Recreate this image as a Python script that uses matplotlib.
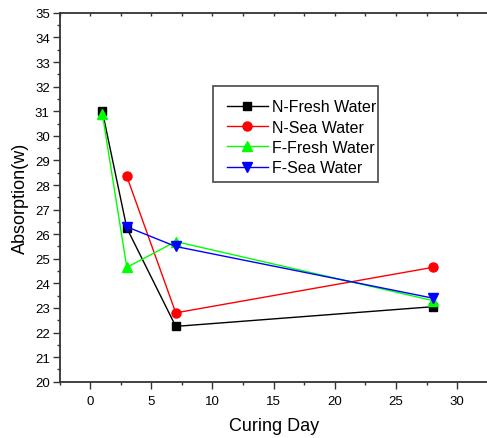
import matplotlib
matplotlib.use("Agg")
import matplotlib.pyplot as plt
from matplotlib.ticker import MultipleLocator
from matplotlib.patches import Rectangle

plt.rcParams['font.family'] = ['Liberation Sans', 'DejaVu Sans']

# Curing days and water absorption values
days_n_fresh = [1, 3, 7, 28]
n_fresh = [31.0, 26.25, 22.25, 23.05]

days_n_sea = [3, 7, 28]
n_sea = [28.35, 22.8, 24.65]

days_f_fresh = [1, 3, 7, 28]
f_fresh = [30.9, 24.65, 25.7, 23.3]

days_f_sea = [3, 7, 28]
f_sea = [26.3, 25.5, 23.4]

labels = ["N-Fresh Water", "N-Sea Water", "F-Fresh Water", "F-Sea Water"]

W, H = 487, 439
fig = plt.figure(figsize=(W / 100, H / 100), dpi=100)
ax = fig.add_axes([59.5 / W, 1 - 382.7 / H, 428.3 / W, (382.7 - 13.9) / H])

ax.plot(days_n_fresh, n_fresh, color='black', lw=1.0, marker='s', ms=5.8, label=labels[0])
ax.plot(days_n_sea, n_sea, color='#ff0000', lw=1.0, marker='o', ms=6.5, label=labels[1])
ax.plot(days_f_fresh, f_fresh, color='#00ff00', lw=1.0, marker='^', ms=7.5, label=labels[2])
ax.plot(days_f_sea, f_sea, color='#0000ff', lw=1.0, marker='v', ms=7.5, label=labels[3])

ax.set_xlim(-2.5, 32.5)
ax.set_ylim(20, 35)
ax.xaxis.set_major_locator(MultipleLocator(5))
ax.xaxis.set_minor_locator(MultipleLocator(2.5))
ax.yaxis.set_major_locator(MultipleLocator(1))
ax.yaxis.set_minor_locator(MultipleLocator(0.5))

for s in ax.spines.values():
    s.set_linewidth(1.3)
    s.set_color('#333333')

ax.tick_params(axis='both', which='major', direction='out', length=4.7, width=1.0,
               labelsize=9.5, color='#333333')
ax.tick_params(axis='both', which='minor', direction='out', length=2.4, width=1.0,
               color='#333333')
ax.tick_params(axis='y', which='major', pad=2.3)
ax.tick_params(axis='x', which='major', pad=5.0)
ax.tick_params(axis='x', which='both', top=True, labeltop=False)
for t in ax.xaxis.get_major_ticks() + ax.xaxis.get_minor_ticks():
    t.tick2line.set_markersize(2)
    t.tick2line.set_marker(3)

ax.set_xlabel("Curing Day", fontsize=13, labelpad=7)
ax.set_ylabel("Absorption(w)", fontsize=13, labelpad=4)

# Legend box drawn as its own rectangle, entries placed inside it
box = Rectangle((213 / W, 1 - 183 / H), (378 - 213) / W, (183 - 87) / H,
                transform=fig.transFigure, facecolor='white', edgecolor='#555555',
                linewidth=1.3, zorder=5)
fig.add_artist(box)
leg = ax.legend(loc='upper left', bbox_to_anchor=(226.7 / W, 1 - 100.3 / H),
                bbox_transform=fig.transFigure, fontsize=11.5, frameon=False,
                handlelength=2.6, handletextpad=0.23, labelspacing=0.33,
                borderpad=0, borderaxespad=0)
leg.set_zorder(6)
leg.remove()
fig.add_artist(leg)

fig.savefig("out.png", dpi=100)
